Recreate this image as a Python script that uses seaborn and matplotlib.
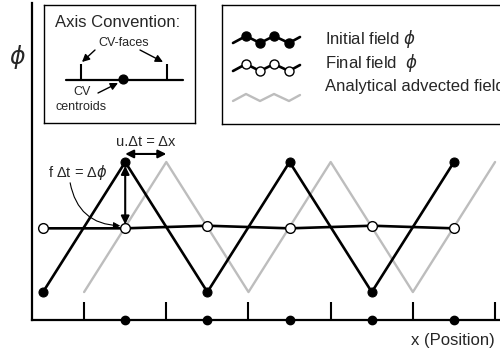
import matplotlib
matplotlib.use("Agg")
import matplotlib.pyplot as plt
import seaborn as sns

sns.set_theme(style="white")
plt.rcParams['font.family'] = ['Liberation Sans', 'DejaVu Sans']
plt.rcParams['mathtext.fontset'] = 'dejavusans'

# chart data (one cell = 1 unit, phi low = 0, phi high = 1)
centroids = [0, 1, 2, 3, 4, 5]
faces = [0.5, 1.5, 2.5, 3.5, 4.5, 5.5]
initial_field = [0, 1, 0, 1, 0, 1]
final_field = [0.49, 0.49, 0.51, 0.49, 0.51, 0.49]
analytical_field = [0, 1, 0, 1, 0, 1]
axis_centroids = [1, 2, 3, 4, 5]
legend_labels = ["Initial field $\\phi$", "Final field  $\\phi$", "Analytical advected field"]

# small zigzag used for the legend samples
sample_x = [11, 24, 38, 52, 67, 78]
sample_wave = [0, -7, 0, -7, 0, -6]

W, H = 500, 356
fig = plt.figure(figsize=(5, 3.56), dpi=100)

# main axes
ax = fig.add_axes([32 / W, 36 / H, 468 / W, 317 / H])
xlo, xhi = -0.134, 5.56
ylo, yhi = -0.215, 2.223
ax.set_xlim(xlo, xhi)
ax.set_ylim(ylo, yhi)
ax.set_xticks([])
ax.set_yticks([])
sns.despine(ax=ax)
for s in ["left", "bottom"]:
    ax.spines[s].set_linewidth(1.6)
    ax.spines[s].set_color("black")

# CV faces and centroids on the x axis
ax.vlines(faces, ylo, ylo + 0.14, color="black", lw=1.5, clip_on=False)
ax.scatter(axis_centroids, [ylo] * len(axis_centroids), s=36, color="black",
           zorder=5, clip_on=False)

sns.lineplot(x=faces, y=analytical_field, sort=False, color="#bdbdbd", lw=1.7, ax=ax)
sns.lineplot(x=centroids, y=initial_field, sort=False, color="black", lw=1.9,
             marker="o", markersize=6.5, markerfacecolor="black",
             markeredgecolor="black", ax=ax)
sns.lineplot(x=centroids, y=final_field, sort=False, color="black", lw=1.9,
             marker="o", markersize=7, markerfacecolor="white",
             markeredgecolor="black", markeredgewidth=1.0, ax=ax)

# annotations
y_h = 1.062
ax.annotate("", xy=(faces[1], y_h), xytext=(centroids[1], y_h),
            arrowprops=dict(arrowstyle="<|-|>", color="black", lw=1.5,
                            mutation_scale=12, shrinkA=0, shrinkB=0))
ax.text(1.253, 1.154, "u.\u0394t = \u0394x", ha="center", va="center", fontsize=10.5)
ax.annotate("", xy=(centroids[1], final_field[1] + 0.03),
            xytext=(centroids[1], initial_field[1] - 0.03),
            arrowprops=dict(arrowstyle="<|-|>", color="black", lw=1.5,
                            mutation_scale=12, shrinkA=0, shrinkB=0))
ax.text(0.061, 0.923, "f \u0394t = \u0394$\\phi$", ha="left", va="center", fontsize=10.5)
ax.annotate("", xy=(0.94, 0.51), xytext=(0.33, 0.84),
            arrowprops=dict(arrowstyle="-|>", color="black", lw=0.8,
                            mutation_scale=10, shrinkA=0, shrinkB=0,
                            connectionstyle="arc3,rad=0.4"))

fig.text(17 / W, 1 - 57 / H, "$\\phi$", fontsize=17, ha="center", va="center")
fig.text(495 / W, 1 - 341 / H, "x (Position)", fontsize=12, ha="right", va="center")

# axis convention inset
ins = fig.add_axes([44 / W, 1 - 123 / H, 151 / W, 118 / H])
ins.set_xlim(0, 151)
ins.set_ylim(118, 0)
ins.set_xticks([])
ins.set_yticks([])
for s in ins.spines.values():
    s.set_linewidth(1.0)
    s.set_color("black")
ins.text(74, 17, "Axis Convention:", fontsize=12, ha="center", va="center")
ins.plot([22, 139], [75, 75], color="black", lw=1.6)
ins.vlines([37, 123], 59, 75, color="black", lw=1.5)
ins.scatter([79], [74], s=40, color="black", zorder=5)
ins.text(80, 38, "CV-faces", fontsize=9, ha="center", va="center")
ins.text(38, 87, "CV", fontsize=9, ha="center", va="center")
ins.text(37, 102, "centroids", fontsize=9, ha="center", va="center")
arr = dict(arrowstyle="-|>", color="black", lw=1.0, mutation_scale=11, shrinkA=0, shrinkB=0)
ins.annotate("", xy=(38, 57), xytext=(51, 45), arrowprops=arr)
ins.annotate("", xy=(119, 57), xytext=(96, 45), arrowprops=arr)
ins.annotate("", xy=(74, 78), xytext=(54, 88), arrowprops=arr)

# legend box
leg = fig.add_axes([222 / W, 1 - 124 / H, 298 / W, 119 / H])
leg.set_xlim(0, 298)
leg.set_ylim(119, 0)
leg.set_xticks([])
leg.set_yticks([])
for s in leg.spines.values():
    s.set_linewidth(1.0)
    s.set_color("black")
leg.plot(sample_x, [38 + d for d in sample_wave], color="black", lw=1.9,
         marker="o", markersize=6.5, markevery=[1, 2, 3, 4], markerfacecolor="black")
leg.plot(sample_x, [66 + d for d in sample_wave], color="black", lw=1.9,
         marker="o", markersize=6.5, markevery=[1, 2, 3, 4], markerfacecolor="white",
         markeredgecolor="black", markeredgewidth=1.0)
leg.plot(sample_x, [96 + d for d in sample_wave], color="#bdbdbd", lw=1.7)
for yy, lab in zip([34, 58, 82], legend_labels):
    leg.text(103, yy, lab, fontsize=12, ha="left", va="center")

fig.savefig("out.png", dpi=100)
